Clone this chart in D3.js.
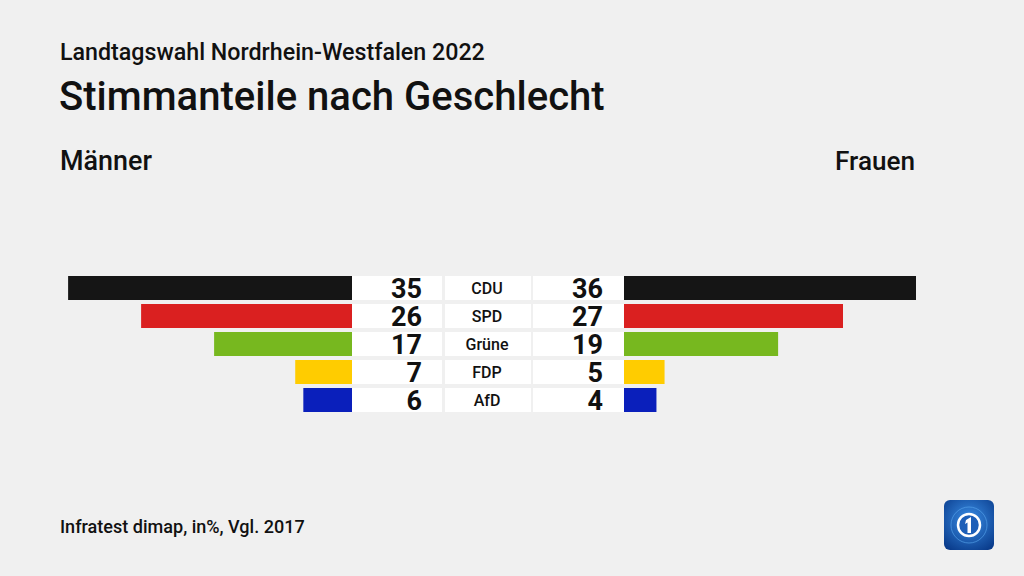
<!DOCTYPE html>
<html><head><meta charset="utf-8">
<script src="https://cdn.jsdelivr.net/npm/d3@7"></script>
<style>html,body{margin:0;padding:0;background:#f0f0f0;}svg{display:block;}</style>
</head><body>
<script>
const categories = ["CDU", "SPD", "Grüne", "FDP", "AfD"];
const maenner = [35, 26, 17, 7, 6];
const frauen = [36, 27, 19, 5, 4];
const colors = ["#151515", "#da2020", "#77b81f", "#ffcc00", "#0a1fbb"];
const titleText = "Stimmanteile nach Geschlecht";
const subtitleText = "Landtagswahl Nordrhein-Westfalen 2022";
const leftLabel = "Männer";
const rightLabel = "Frauen";
const sourceText = "Infratest dimap, in%, Vgl. 2017";

const W = 1024, H = 576;
const FONT = "Roboto, 'Open Sans', sans-serif";
const svg = d3.select("body").append("svg").attr("width", W).attr("height", H);
svg.append("rect").attr("width", W).attr("height", H).attr("fill", "#f0f0f0");

function fitText(sel, target) {
  const len = sel.node().getComputedTextLength();
  const fs = parseFloat(sel.attr("font-size"));
  sel.attr("font-size", fs * target / len);
}

const sub = svg.append("text").attr("x", 60).attr("y", 60).attr("font-family", FONT)
  .attr("font-weight", 500).attr("font-size", 22).attr("fill", "#111").text(subtitleText);
fitText(sub, 425);
const tit = svg.append("text").attr("x", 59).attr("y", 110).attr("font-family", FONT)
  .attr("font-weight", 500).attr("font-size", 33).attr("fill", "#111").text(titleText);
fitText(tit, 546);
const ml = svg.append("text").attr("x", 60).attr("y", 170).attr("font-family", FONT)
  .attr("font-weight", 500).attr("font-size", 23).attr("fill", "#111").text(leftLabel);
fitText(ml, 92);
const fl = svg.append("text").attr("x", 915).attr("y", 170).attr("text-anchor", "end").attr("font-family", FONT)
  .attr("font-weight", 500).attr("font-size", 23).attr("fill", "#111").text(rightLabel);
fitText(fl, 80);
const src = svg.append("text").attr("x", 60).attr("y", 533).attr("font-family", FONT)
  .attr("font-weight", 500).attr("font-size", 16).attr("fill", "#111").text(sourceText);
fitText(src, 245);

const y = d3.scaleBand().domain(categories).range([274, 414]).paddingInner(1/7).paddingOuter(1/14);
const x = d3.scaleLinear().domain([0, 36]).range([0, 292]);
const leftEdge = 352, rightEdge = 624;

const rows = svg.append("g").selectAll("g").data(categories).join("g");
rows.append("rect").attr("x", (d, i) => leftEdge - x(maenner[i])).attr("y", d => y(d))
  .attr("width", (d, i) => x(maenner[i])).attr("height", y.bandwidth()).attr("fill", (d, i) => colors[i]);
rows.append("rect").attr("x", rightEdge).attr("y", d => y(d))
  .attr("width", (d, i) => x(frauen[i])).attr("height", y.bandwidth()).attr("fill", (d, i) => colors[i]);
// white boxes
rows.append("rect").attr("x", 352).attr("y", d => y(d)).attr("width", 90).attr("height", y.bandwidth()).attr("fill", "#fff");
rows.append("rect").attr("x", 445).attr("y", d => y(d)).attr("width", 86).attr("height", y.bandwidth()).attr("fill", "#fff");
rows.append("rect").attr("x", 533).attr("y", d => y(d)).attr("width", 91).attr("height", y.bandwidth()).attr("fill", "#fff");
rows.append("text").attr("x", 422).attr("y", d => y(d) + y.bandwidth() / 2 + 9.5).attr("text-anchor", "end")
  .attr("font-family", FONT).attr("font-weight", 700).attr("font-size", 27).attr("fill", "#111")
  .text((d, i) => maenner[i]);
rows.append("text").attr("x", 603).attr("y", d => y(d) + y.bandwidth() / 2 + 9.5).attr("text-anchor", "end")
  .attr("font-family", FONT).attr("font-weight", 700).attr("font-size", 27).attr("fill", "#111")
  .text((d, i) => frauen[i]);
rows.append("text").attr("x", 487).attr("y", d => y(d) + y.bandwidth() / 2 + 6).attr("text-anchor", "middle")
  .attr("font-family", FONT).attr("font-weight", 500).attr("font-size", 16).attr("fill", "#111")
  .text(d => d);

// logo
const logo = svg.append("g").attr("transform", "translate(944,500)");
const defs = svg.append("defs");
const grad = defs.append("radialGradient").attr("id", "lg").attr("cx", "50%").attr("cy", "40%").attr("r", "70%");
grad.append("stop").attr("offset", "0%").attr("stop-color", "#3a8ee6");
grad.append("stop").attr("offset", "100%").attr("stop-color", "#0a3c8c");
logo.append("rect").attr("width", 50).attr("height", 50).attr("rx", 6).attr("fill", "url(#lg)");
logo.append("circle").attr("cx", 25).attr("cy", 25).attr("r", 18).attr("fill", "none").attr("stroke", "#5aa8f0").attr("stroke-width", 1).attr("opacity", 0.6);
logo.append("circle").attr("cx", 25).attr("cy", 25).attr("r", 11).attr("fill", "#1d5fb8").attr("stroke", "#fff").attr("stroke-width", 2.5);
logo.append("path").attr("d", "M22 20 L27 17 L27 33 L23.5 33 L23.5 22.5 L21 24 Z").attr("fill", "#fff");
</script>
</body></html>
